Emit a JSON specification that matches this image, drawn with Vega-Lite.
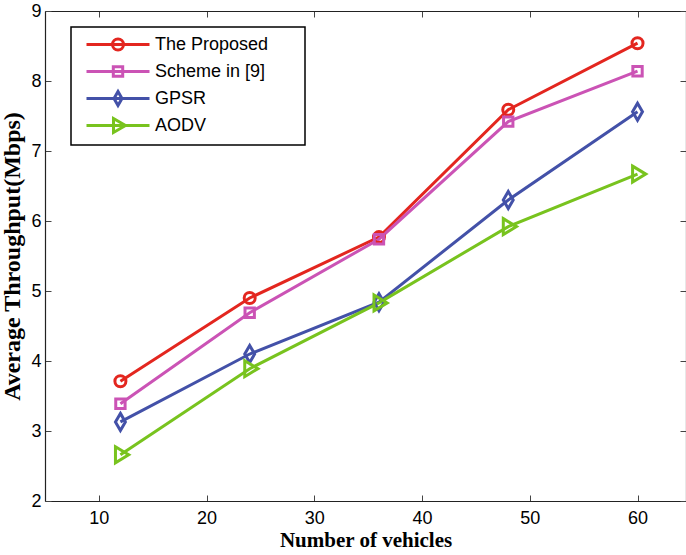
{
  "$schema": "https://vega.github.io/schema/vega-lite/v6.json",
  "autosize": "none",
  "width": 641,
  "height": 490,
  "padding": {"left": 45, "top": 11, "right": 0, "bottom": 54},
  "background": "white",
  "config": {
    "view": {"stroke": null},
    "legend": {"strokeWidth": 1.5},
    "axis": {
      "labelFont": "Liberation Sans",
      "labelFontSize": 18,
      "labelColor": "black",
      "titleFont": "Liberation Serif",
      "titleFontWeight": "bold",
      "titleColor": "black",
      "domainColor": "#222222",
      "domainWidth": 1.2,
      "tickColor": "#444444",
      "tickSize": -6,
      "tickWidth": 1,
      "grid": false
    }
  },
  "data": {
    "values": [
      {"n": 12, "tp": 3.71, "series": "The Proposed"},
      {"n": 24, "tp": 4.90, "series": "The Proposed"},
      {"n": 36, "tp": 5.77, "series": "The Proposed"},
      {"n": 48, "tp": 7.59, "series": "The Proposed"},
      {"n": 60, "tp": 8.54, "series": "The Proposed"},
      {"n": 12, "tp": 3.39, "series": "Scheme in [9]"},
      {"n": 24, "tp": 4.69, "series": "Scheme in [9]"},
      {"n": 36, "tp": 5.74, "series": "Scheme in [9]"},
      {"n": 48, "tp": 7.42, "series": "Scheme in [9]"},
      {"n": 60, "tp": 8.14, "series": "Scheme in [9]"},
      {"n": 12, "tp": 3.13, "series": "GPSR"},
      {"n": 24, "tp": 4.10, "series": "GPSR"},
      {"n": 36, "tp": 4.84, "series": "GPSR"},
      {"n": 48, "tp": 6.30, "series": "GPSR"},
      {"n": 60, "tp": 7.56, "series": "GPSR"},
      {"n": 12, "tp": 2.66, "series": "AODV"},
      {"n": 24, "tp": 3.89, "series": "AODV"},
      {"n": 36, "tp": 4.83, "series": "AODV"},
      {"n": 48, "tp": 5.92, "series": "AODV"},
      {"n": 60, "tp": 6.67, "series": "AODV"}
    ]
  },
  "layer": [
    {
      "mark": {"type": "line", "strokeWidth": 3, "clip": true},
      "encoding": {
        "x": {
          "field": "n", "type": "quantitative",
          "scale": {"domain": [5, 64.5], "nice": false, "zero": false},
          "axis": {"values": [10, 20, 30, 40, 50, 60], "title": "Number of vehicles", "titleFontSize": 21, "labelPadding": 14, "titlePadding": 2}
        },
        "y": {
          "field": "tp", "type": "quantitative",
          "scale": {"domain": [2, 9], "nice": false, "zero": false},
          "axis": {"values": [2, 3, 4, 5, 6, 7, 8, 9], "title": "Average Throughput(Mbps)", "titleFontSize": 24, "labelPadding": 10, "titlePadding": 6}
        },
        "color": {
          "field": "series", "type": "nominal",
          "scale": {"domain": ["The Proposed", "Scheme in [9]", "GPSR", "AODV"], "range": ["#E3261F", "#CB53B5", "#4351A8", "#78C31E"]},
          "legend": null
        },
        "detail": {"field": "series"}
      }
    },
    {
      "mark": {"type": "point", "filled": false, "strokeWidth": 3, "size": 121, "opacity": 1},
      "encoding": {
        "x": {
          "field": "n", "type": "quantitative",
          "axis": {"orient": "top", "values": [10, 20, 30, 40, 50, 60], "labels": false, "title": null}
        },
        "y": {
          "field": "tp", "type": "quantitative",
          "axis": {"orient": "right", "values": [2, 3, 4, 5, 6, 7, 8, 9], "labels": false, "title": null}
        },
        "color": {
          "field": "series", "type": "nominal",
          "scale": {"domain": ["The Proposed", "Scheme in [9]", "GPSR", "AODV"], "range": ["#E3261F", "#CB53B5", "#4351A8", "#78C31E"]},
          "legend": null
        },
        "shape": {
          "field": "series", "type": "nominal",
          "scale": {"domain": ["The Proposed", "Scheme in [9]", "GPSR", "AODV"], "range": [
            "M-1,0A1,1,0,1,1,1,0A1,1,0,1,1,-1,0Z",
            "M-0.85,-0.85H0.85V0.85H-0.85Z",
            "M0,-1.55L0.9,0L0,1.55L-0.9,0Z",
            "M-0.9,-1.45L1.5,0L-0.9,1.45Z"
          ]},
          "legend": null
        }
      }
    },
    {
      "transform": [{"filter": "false"}],
      "mark": {"type": "point", "filled": false, "strokeWidth": 3, "size": 400, "opacity": 1},
      "encoding": {
        "color": {
          "field": "series", "type": "nominal",
          "scale": {"domain": ["The Proposed", "Scheme in [9]", "GPSR", "AODV"], "range": ["#E3261F", "#CB53B5", "#4351A8", "#78C31E"]},
          "legend": {
            "title": null,
            "orient": "none",
            "legendX": 26,
            "legendY": 16,
            "padding": 6,
            "symbolOffset": 29.5,
            "labelOffset": 25.5,
            "rowPadding": 0,
            "symbolSize": 400,
            "labelFont": "Liberation Sans",
            "labelFontSize": 18,
            "labelColor": "black",
            "strokeColor": "black",
            "fillColor": "white",
            "symbolStrokeWidth": 3,
            "labelExpr": "datum.label + '\u00a0\u00a0\u00a0\u00a0\u00a0\u00a0\u200b'"
          }
        },
        "shape": {
          "field": "series", "type": "nominal",
          "scale": {"domain": ["The Proposed", "Scheme in [9]", "GPSR", "AODV"], "range": [
            "M0,-0.7M0,0.7M-3.15,0H3.15M-0.55,0A0.55,0.55,0,1,1,0.55,0A0.55,0.55,0,1,1,-0.55,0Z",
            "M0,-0.7M0,0.7M-3.15,0H3.15M-0.47,-0.47H0.47V0.47H-0.47Z",
            "M0,-0.7M0,0.7M-3.15,0H3.15M0,-0.7L0.4,0L0,0.7L-0.4,0Z",
            "M0,-0.7M0,0.7M-3.15,0H3.15M-0.45,-0.7L0.75,0L-0.45,0.7Z"
          ]},
          "legend": {
            "title": null,
            "orient": "none",
            "legendX": 26,
            "legendY": 16,
            "padding": 6,
            "symbolOffset": 29.5,
            "labelOffset": 25.5,
            "rowPadding": 0,
            "symbolSize": 400,
            "labelFont": "Liberation Sans",
            "labelFontSize": 18,
            "labelColor": "black",
            "strokeColor": "black",
            "fillColor": "white",
            "symbolStrokeWidth": 3,
            "labelExpr": "datum.label + '\u00a0\u00a0\u00a0\u00a0\u00a0\u00a0\u200b'"
          }
        }
      }
    }
  ],
  "resolve": {
    "axis": {"x": "independent", "y": "independent"},
    "scale": {"color": "independent", "shape": "independent"},
    "legend": {"color": "independent", "shape": "independent"}
  }
}
